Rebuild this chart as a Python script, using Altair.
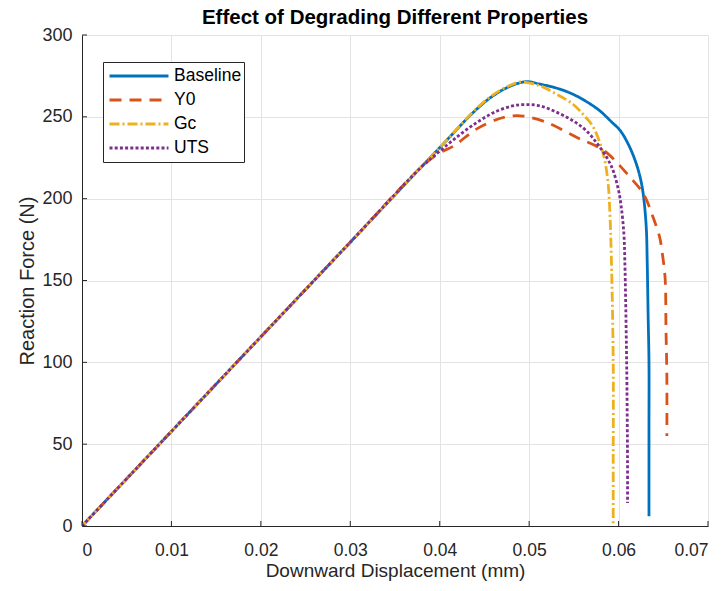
import altair as alt
import pandas as pd

series_names = ["Baseline", "Y0", "Gc", "UTS"]
series_colors = ["#0072BD", "#D95319", "#EDB120", "#7E2F8E"]
series_dashes = [[1, 0], [12, 8], [10, 3, 2, 3], [3, 2.2]]

baseline_x = [0, 0.01, 0.02, 0.03, 0.04, 0.044, 0.046, 0.048, 0.0497, 0.0512, 0.0534, 0.0549,
              0.0565, 0.0579, 0.0592, 0.0602, 0.0612, 0.0620, 0.0625, 0.0628, 0.0631, 0.0632,
              0.0633, 0.0634, 0.0634, 0.0634]
baseline_y = [0, 57.8, 115.6, 173.4, 231.2, 254, 263, 269, 271.5, 270, 267, 263.8,
              259, 253.7, 247, 241.5, 232, 221, 211, 201, 182, 162,
              130, 100, 60, 6]

y0_x = [0, 0.01, 0.02, 0.03, 0.038, 0.040, 0.0415, 0.0441, 0.0467, 0.048, 0.0493, 0.052,
        0.0557, 0.0572, 0.0587, 0.0613, 0.0628, 0.0639, 0.0646, 0.0648, 0.0652, 0.0653,
        0.0654, 0.0654]
y0_y = [0, 57.8, 115.6, 173.4, 219.6, 228, 232, 242.5, 249, 250.5, 250.5, 246.5,
        236.4, 233, 228, 213, 202.8, 188, 176.4, 170, 151.7, 121,
        90, 55]

gc_x = [0, 0.01, 0.02, 0.03, 0.04, 0.0445, 0.0467, 0.048, 0.049, 0.0512, 0.053, 0.0549,
        0.0562, 0.0572, 0.0583, 0.0588, 0.059, 0.0592, 0.0594, 0.0594, 0.0594]
gc_y = [0, 57.8, 115.6, 173.4, 231.2, 257, 266, 269.5, 271.3, 269, 264, 257.7,
        250.5, 243.5, 227, 211, 195, 162, 101, 40, 0]

uts_x = [0, 0.01, 0.02, 0.03, 0.038, 0.040, 0.042, 0.044, 0.046, 0.048, 0.0495, 0.0512,
         0.053, 0.0549, 0.0564, 0.0577, 0.0588, 0.0594, 0.0600, 0.0603, 0.0606, 0.0607,
         0.0609, 0.0610, 0.0610]
uts_y = [0, 57.8, 115.6, 173.4, 219.6, 229, 238, 246, 252.5, 256.5, 257.5, 256.7,
         253, 247.6, 241.5, 233, 224, 217, 205, 195, 178, 162,
         101, 40, 14]

x_ticks = [0, 0.01, 0.02, 0.03, 0.04, 0.05, 0.06, 0.07]
y_ticks = [0, 50, 100, 150, 200, 250, 300]

rows = []
for name, xs, ys in zip(series_names,
                        [baseline_x, y0_x, gc_x, uts_x],
                        [baseline_y, y0_y, gc_y, uts_y]):
    for i, (xv, yv) in enumerate(zip(xs, ys)):
        rows.append({"series": name, "x": xv, "y": yv, "idx": i})
df = pd.DataFrame(rows)

FONT = "Liberation Sans"
TXT = "#262626"

xscale = alt.Scale(domain=[0, 0.07], nice=False, zero=False)
yscale = alt.Scale(domain=[0, 300], nice=False)

legend_opts = dict(orient="none", legendX=21, legendY=27, title=None,
                   symbolType="stroke", symbolSize=3481, symbolStrokeWidth=2.8,
                   labelFont=FONT, labelFontSize=17.5, labelColor="#000",
                   strokeColor="#262626", fillColor="white",
                   padding=2, clipHeight=24, labelOffset=4, symbolOffset=3,
                   rowPadding=0)

lines = alt.Chart(df).mark_line(strokeWidth=2.8, clip=True, interpolate="catmull-rom").encode(
    x=alt.X("x:Q", scale=xscale,
            axis=alt.Axis(values=x_ticks, format=".2~f", title="Downward Displacement (mm)",
                          grid=True, ticks=False, labelPadding=15, labelFontSize=17.5,
                          titleFontSize=19, titlePadding=3)),
    y=alt.Y("y:Q", scale=yscale,
            axis=alt.Axis(values=y_ticks, title="Reaction Force (N)", grid=True, ticks=False,
                          labelPadding=10, labelFontSize=18, titleFontSize=20,
                          titlePadding=4)),
    color=alt.Color("series:N", scale=alt.Scale(domain=series_names, range=series_colors),
                    legend=alt.Legend(**legend_opts)),
    strokeDash=alt.StrokeDash("series:N",
                              scale=alt.Scale(domain=series_names, range=series_dashes),
                              legend=alt.Legend(**legend_opts)),
    order=alt.Order("idx:Q"),
)

xt = pd.DataFrame({"v": x_ticks})
yt = pd.DataFrame({"v": y_ticks})
xtick_marks = alt.Chart(xt).mark_rule(color=TXT, strokeWidth=1).encode(
    x=alt.X("v:Q", scale=xscale), y=alt.value(491), y2=alt.value(486))
ytick_marks = alt.Chart(yt).mark_rule(color=TXT, strokeWidth=1).encode(
    y=alt.Y("v:Q", scale=yscale), x=alt.value(0), x2=alt.value(5))

chart = alt.layer(lines, xtick_marks, ytick_marks).properties(
    width=626, height=491,
    title=alt.TitleParams("Effect of Degrading Different Properties", font=FONT,
                          fontSize=20.5, fontWeight="bold", color="#000", anchor="middle",
                          frame="group", offset=-2),
    autosize=alt.AutoSizeParams(type="none"),
    padding={"left": 82, "top": 35, "right": 20, "bottom": 65},
).configure_view(stroke=None).configure_axis(
    labelFont=FONT, labelColor=TXT,
    titleFont=FONT, titleFontWeight="normal", titleColor=TXT,
    domainColor=TXT, domainWidth=1, gridColor="#e3e3e3", gridWidth=1,
)

chart.save("out.html", embed_options={"renderer": "svg", "actions": False})
